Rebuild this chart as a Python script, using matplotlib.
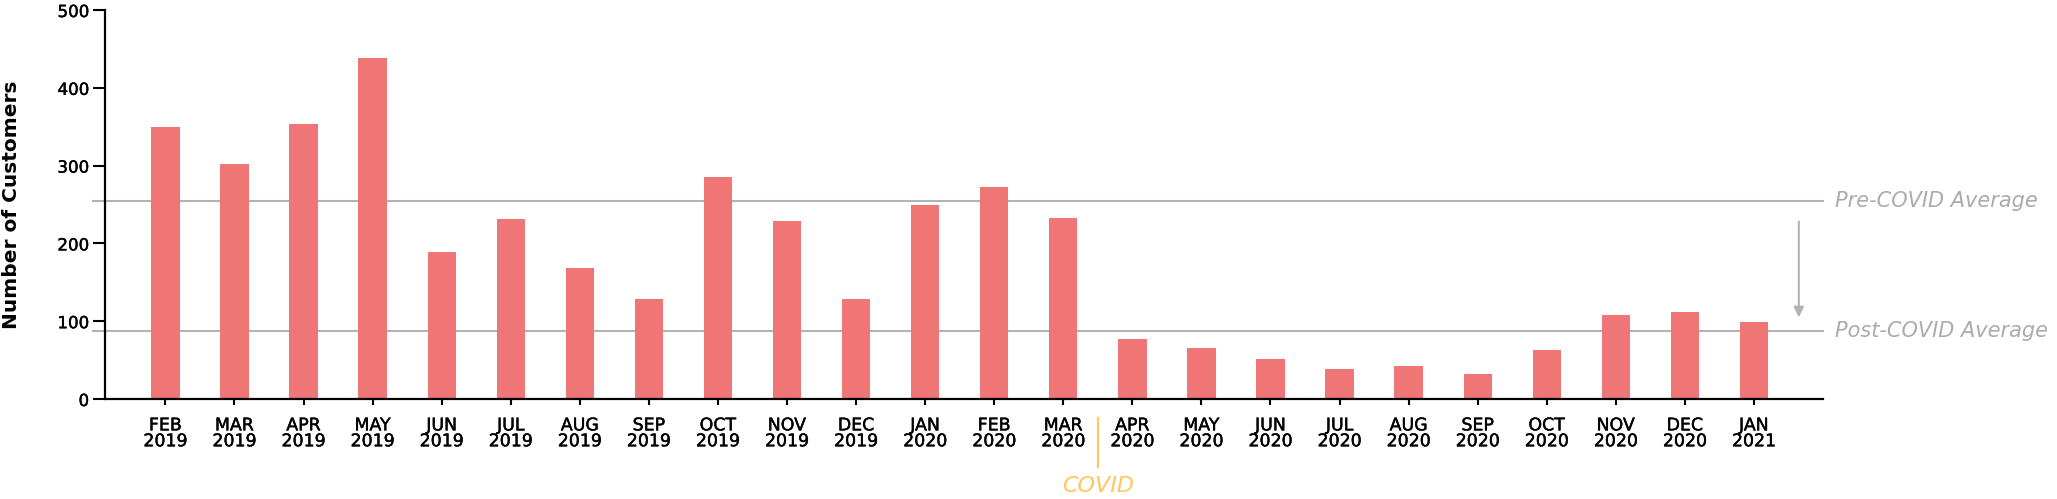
import matplotlib
matplotlib.use("Agg")
import matplotlib.pyplot as plt
import matplotlib.transforms as mtransforms
import matplotlib.patheffects as pe

# data
months = ["FEB\n2019", "MAR\n2019", "APR\n2019", "MAY\n2019", "JUN\n2019", "JUL\n2019",
          "AUG\n2019", "SEP\n2019", "OCT\n2019", "NOV\n2019", "DEC\n2019", "JAN\n2020",
          "FEB\n2020", "MAR\n2020", "APR\n2020", "MAY\n2020", "JUN\n2020", "JUL\n2020",
          "AUG\n2020", "SEP\n2020", "OCT\n2020", "NOV\n2020", "DEC\n2020", "JAN\n2021"]
customers = [349, 302, 353, 438, 189, 231, 169, 129, 285, 229, 128, 250,
             272, 233, 77, 66, 52, 39, 43, 32, 63, 108, 112, 99]
pre_covid_avg = 255
post_covid_avg = 87
covid_at = 13.5  # between MAR 2020 and APR 2020

bar_color = "#F07575"
grey = "#B3B3B3"
covid_color = "#FFC65C"

plt.rcParams['font.family'] = ['DejaVu Sans']

fig = plt.figure(figsize=(20.57, 4.99), dpi=100)
ax = fig.add_axes([105 / 2057, 1 - 399 / 499, (1823 - 105) / 2057, 389 / 499])

x = list(range(len(months)))
ax.bar(x, customers, width=0.41, color=bar_color, zorder=3)

ax.set_xlim(-0.875, 24)
ax.set_ylim(0, 500)
ax.set_yticks([0, 100, 200, 300, 400, 500])
ax.set_xticks(x)
ax.set_xticklabels(months, fontsize=12.5, linespacing=0.85)

for side in ["top", "right"]:
    ax.spines[side].set_visible(False)
for side in ["left", "bottom"]:
    ax.spines[side].set_linewidth(1.6)
    ax.spines[side].set_zorder(4)

ax.tick_params(axis="y", length=8.5, width=1.5, pad=3, labelsize=12)
ax.tick_params(axis="x", direction="inout", length=8, width=1.5, pad=8.5)

# a touch heavier, like a medium weight
thick = [pe.withStroke(linewidth=0.3, foreground="black")]
for lab in ax.get_xticklabels() + ax.get_yticklabels():
    lab.set_path_effects(thick)

ax.set_ylabel("Number of Customers", fontsize=14.5, fontweight="bold", va="center")
ax.yaxis.set_label_coords(-0.0545, 0.5)

# average lines, running a bit past the left axis
trans = mtransforms.blended_transform_factory(ax.transAxes, ax.transData)
for val in [pre_covid_avg, post_covid_avg]:
    ax.plot([-0.007, 1.0], [val, val], color=grey, lw=1.5, transform=trans,
            clip_on=False, zorder=2)

ax.annotate("Pre-COVID Average", xy=(1.0, pre_covid_avg), xycoords=trans,
            xytext=(12, 0), textcoords="offset pixels", ha="left", va="center",
            fontsize=15, style="italic", color="#ABABAB")
ax.annotate("Post-COVID Average", xy=(1.0, post_covid_avg), xycoords=trans,
            xytext=(12, 0), textcoords="offset pixels", ha="left", va="center",
            fontsize=15, style="italic", color="#ABABAB")

# arrow from pre to post average
ax.annotate("", xy=(23.65, post_covid_avg + 18), xytext=(23.65, pre_covid_avg - 27),
            arrowprops=dict(arrowstyle="-|>,head_width=0.3,head_length=0.6",
                            color=grey, lw=1.5, shrinkA=0, shrinkB=0))

# COVID marker below axis
ctrans = mtransforms.blended_transform_factory(ax.transData, ax.transAxes)
ax.plot([covid_at, covid_at], [-0.049, -0.174], color=covid_color, lw=1.5,
        transform=ctrans, clip_on=False)
ax.text(covid_at, -0.224, "COVID", transform=ctrans, ha="center", va="center",
        fontsize=16, style="italic", color=covid_color)

fig.savefig("out.png", dpi=100)
